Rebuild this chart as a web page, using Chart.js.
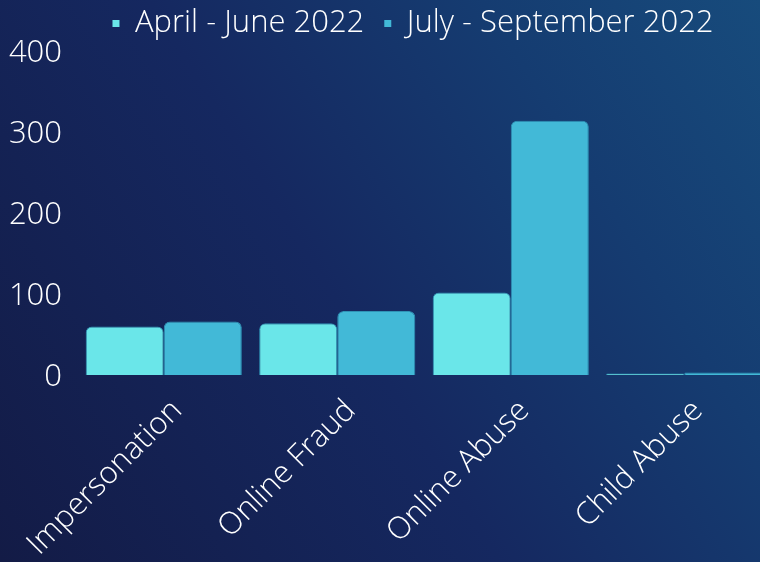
<!DOCTYPE html>
<html>
<head>
<meta charset="utf-8">
<script src="https://cdn.jsdelivr.net/npm/chart.js@4/dist/chart.umd.min.js"></script>
<style>
    html, body {
        margin: 0;
        padding: 0;
        width: 760px;
        height: 562px;
        overflow: hidden;
        background: linear-gradient(58deg, #131b46 0%, #152860 45%, #153c71 75%, #174b7c 100%);
    }
    #wrap { width: 826px; height: 562px; }
</style>
</head>
<body>
<div id="wrap"><canvas id="chart" width="826" height="562"></canvas></div>
<script>
const CATEGORIES = ['Impersonation', 'Online Fraud', 'Online Abuse', 'Child Abuse'];
const SERIES_NAMES = ['April - June 2022', 'July - September 2022'];
const APR_JUN = [60, 64, 102, 2];
const JUL_SEP = [66, 79, 314, 3];
const Y_TICKS = [0, 100, 200, 300, 400];

const FONT = { family: "'Open Sans Light', 'Open Sans'", size: 31, weight: '300' };
const TEXT = '#ffffff';

// legend keeps a fixed height and is centred on the whole (wider) canvas
const legendBox = {
    id: 'legendBox',
    afterInit(chart) {
        const lg = chart.legend;
        if (!lg) return;
        const fit = lg.fit;
        lg.fit = function () {
            fit.call(this);
            this.height = 63;
        };
    },
    afterLayout(chart) {
        const lg = chart.legend;
        if (!lg) return;
        lg.left = 55;
        lg.right = 771;
        lg.width = lg.right - lg.left;
    }
};

const ctx = document.getElementById('chart').getContext('2d');

new Chart(ctx, {
    type: 'bar',
    data: {
        labels: CATEGORIES,
        datasets: [
            {
                label: SERIES_NAMES[0],
                data: APR_JUN,
                backgroundColor: '#6ae6e9',
                borderColor: '#2f93b6',
                borderWidth: 1,
                borderRadius: { topLeft: 6, topRight: 6 },
                borderSkipped: 'bottom',
            },
            {
                label: SERIES_NAMES[1],
                data: JUL_SEP,
                backgroundColor: '#42b9d7',
                borderColor: '#2f93b6',
                borderWidth: 1,
                borderRadius: { topLeft: 6, topRight: 6 },
                borderSkipped: 'bottom',
            },
        ]
    },
    options: {
        responsive: false,
        maintainAspectRatio: false,
        animation: false,
        layout: { padding: { left: 0, right: 55, top: -12, bottom: 0 } },
        datasets: {
            bar: { categoryPercentage: 0.9, barPercentage: 1.0 }
        },
        scales: {
            x: {
                grid: { display: false, drawTicks: false },
                border: { display: false },
                afterFit: (axis) => {
                    axis.paddingLeft = 0;
                    axis.paddingRight = 0;
                    axis.height = 187;
                },
                ticks: {
                    color: TEXT,
                    font: FONT,
                    minRotation: 45,
                    maxRotation: 45,
                    labelOffset: 14,
                    padding: 18,
                }
            },
            y: {
                min: Y_TICKS[0],
                max: Y_TICKS[Y_TICKS.length - 1],
                grid: { display: false, drawTicks: false },
                border: { display: false },
                afterFit: (axis) => {
                    axis.width = 77;
                },
                afterBuildTicks: (axis) => {
                    axis.ticks = Y_TICKS.map(v => ({ value: v }));
                },
                ticks: {
                    color: TEXT,
                    font: FONT,
                    padding: 15,
                    labelOffset: 3,
                }
            }
        },
        plugins: {
            legend: {
                position: 'top',
                labels: {
                    color: TEXT,
                    font: FONT,
                    boxWidth: 7,
                    boxHeight: 7,
                    padding: 20,
                    generateLabels: (chart) => chart.data.datasets.map((ds, i) => ({
                        text: ds.label,
                        fillStyle: ds.backgroundColor,
                        strokeStyle: ds.backgroundColor,
                        lineWidth: 0,
                        fontColor: TEXT,
                        datasetIndex: i,
                        hidden: false,
                    })),
                }
            },
            tooltip: { enabled: false }
        }
    },
    plugins: [legendBox]
});
</script>
</body>
</html>
